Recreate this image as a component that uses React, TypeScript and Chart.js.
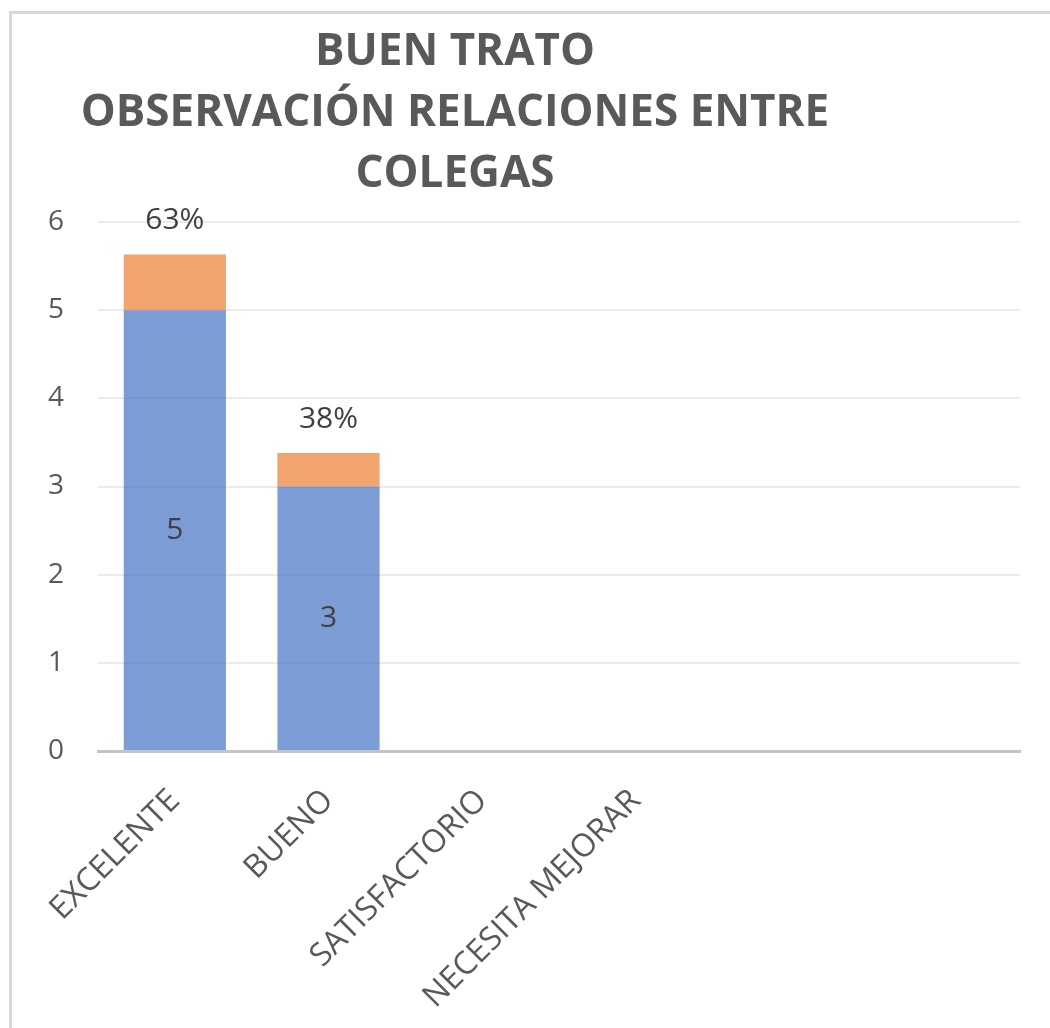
import React, { useEffect, useRef } from "react";
import { Chart, registerables } from "chart.js";

Chart.register(...registerables);

const titleLines = ["BUEN TRATO", "OBSERVACIÓN RELACIONES ENTRE", "COLEGAS"];
const categories = ["EXCELENTE", "BUENO", "SATISFACTORIO", "NECESITA MEJORAR", "", ""];
const countValues: (number | null)[] = [5, 3, null, null, null, null];
const shareValues: (number | null)[] = [0.63, 0.38, null, null, null, null];
const yTicks = [0, 1, 2, 3, 4, 5, 6];

const TEXT = "#595959";
const LABEL = "#404040";

const labelPlugin = {
  id: "valueLabels",
  afterDatasetsDraw(chart: any) {
    const ctx = chart.ctx;
    ctx.save();
    ctx.fillStyle = LABEL;
    ctx.font = "30px 'Open Sans'";
    ctx.textAlign = "center";
    ctx.textBaseline = "middle";
    chart.data.datasets.forEach((ds: any, di: number) => {
      const meta = chart.getDatasetMeta(di);
      meta.data.forEach((bar: any, i: number) => {
        const v = ds.data[i];
        if (v === null || v === undefined) return;
        if (di === 0) {
          ctx.fillText(String(v), bar.x, (bar.y + bar.base) / 2);
        } else {
          ctx.fillText(Math.round(v * 100) + "%", bar.x, bar.y - 34);
        }
      });
    });
    ctx.restore();
  },
};

export default function App() {
  const ref = useRef<HTMLCanvasElement>(null);
  useEffect(() => {
    document.body.style.margin = "0";
    const chart = new Chart(ref.current!, {
      type: "bar",
      data: {
        labels: categories,
        datasets: [
          {
            label: "Cantidad",
            data: countValues,
            backgroundColor: "rgba(68,114,196,0.7)",
            categoryPercentage: 1,
            barPercentage: 0.665,
          },
          {
            label: "Porcentaje",
            data: shareValues,
            backgroundColor: "rgba(237,125,49,0.7)",
            categoryPercentage: 1,
            barPercentage: 0.665,
          },
        ],
      },
      options: {
        responsive: false,
        animation: false,
        layout: { padding: { top: 222, right: 30, left: 0, bottom: 0 } },
        plugins: {
          legend: { display: false },
          tooltip: { enabled: false },
          title: { display: false },
        },
        scales: {
          x: {
            stacked: true,
            grid: { display: false, drawTicks: false },
            border: { display: true, color: "#c4c4c4", width: 3 },
            ticks: {
              color: TEXT,
              font: { family: "'Open Sans'", size: 32 },
              minRotation: 45,
              maxRotation: 45,
              padding: 31,
              autoSkip: false,
            },
            afterFit(scale: any) {
              scale.height = 277;
            },
          },
          y: {
            stacked: true,
            min: 0,
            max: 6,
            afterBuildTicks(scale: any) {
              scale.ticks = yTicks.map((v) => ({ value: v }));
            },
            grid: { color: "#ebebeb", lineWidth: 2, drawTicks: false },
            border: { display: false },
            ticks: {
              color: TEXT,
              font: { family: "'Open Sans'", size: 28 },
              padding: 34,
            },
            afterFit(scale: any) {
              scale.width = 98;
            },
          },
        },
      },
      plugins: [labelPlugin],
    });
    return () => chart.destroy();
  }, []);

  return (
    <div style={{ position: "relative", width: 1050, height: 1028, overflow: "hidden", background: "#fff" }}>
      <div
        style={{
          position: "absolute",
          left: 9,
          top: 11,
          width: 1100,
          height: 1100,
          border: "3px solid #d9d9d9",
          boxSizing: "border-box",
        }}
      />
      <canvas ref={ref} width={1050} height={1028} style={{ position: "absolute", left: 0, top: 0 }} />
      <div
        style={{
          position: "absolute",
          left: 0,
          top: 18,
          width: 910,
          textAlign: "center",
          fontFamily: "'Open Sans'",
          fontWeight: 700,
          fontSize: 44,
          lineHeight: "61px",
          color: TEXT,
        }}
      >
        {titleLines.map((t, i) => (
          <div key={i}>{t}</div>
        ))}
      </div>
    </div>
  );
}
